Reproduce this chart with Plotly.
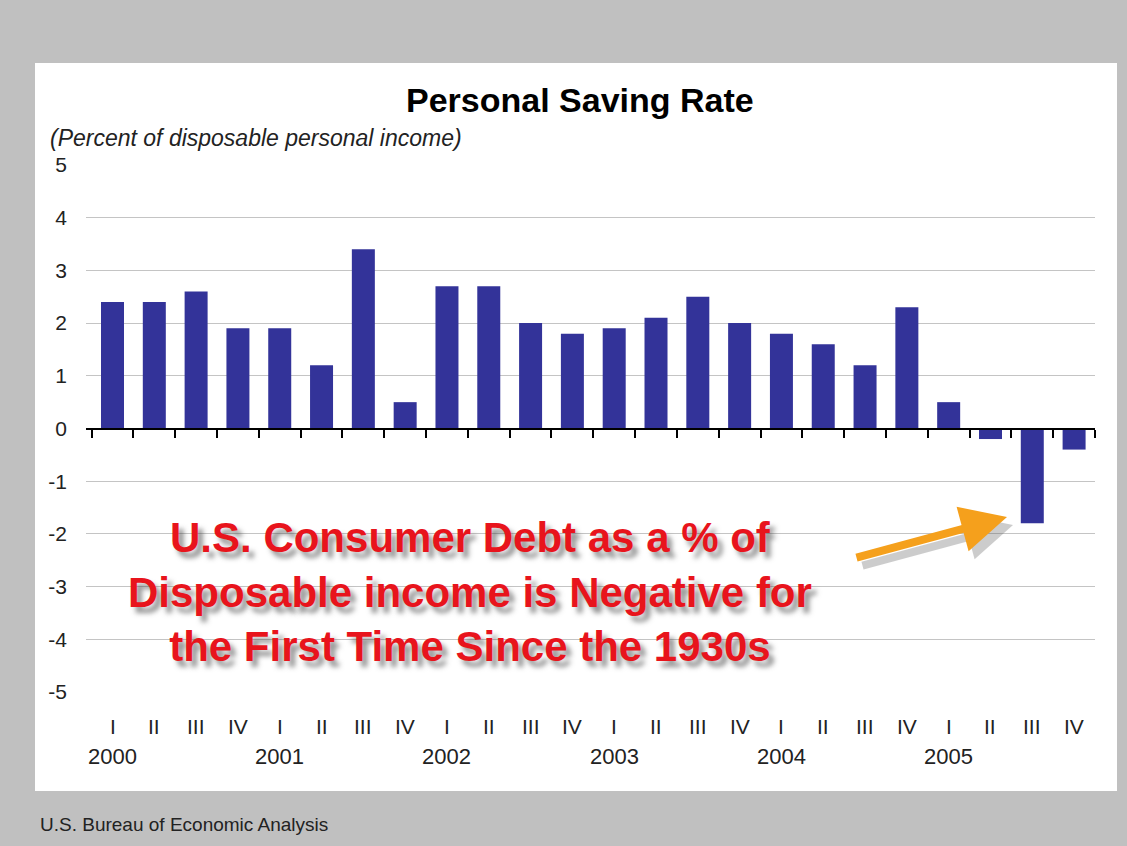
import plotly.graph_objects as go

quarters = ["I", "II", "III", "IV"]
years = ["2000", "2001", "2002", "2003", "2004", "2005"]
saving_rate = [2.4, 2.4, 2.6, 1.9, 1.9, 1.2, 3.4, 0.5,
               2.7, 2.7, 2.0, 1.8, 1.9, 2.1, 2.5, 2.0,
               1.8, 1.6, 1.2, 2.3, 0.5, -0.2, -1.8, -0.4]
y_ticks = [5, 4, 3, 2, 1, 0, -1, -2, -3, -4, -5]

W, H = 1127, 846
FONT = "Liberation Sans, Arial, sans-serif"

cats = [f"{y} {q}" for y in years for q in quarters]

def px(x):
    return x / W

def py(y):
    return 1 - y / H

fig = go.Figure()
fig.add_trace(go.Bar(
    x=cats, y=saving_rate,
    marker=dict(color="#333399", line=dict(width=0)),
    width=0.55,
    hoverinfo="x+y",
))

annotations = []
# quarter labels
for c in cats:
    q = c.split(" ")[1]
    annotations.append(dict(x=c, xref="x", y=py(726), yref="paper",
                            text=q, showarrow=False, yanchor="middle",
                            font=dict(family=FONT, size=21, color="#222222")))
# year labels under first quarter
for y in years:
    annotations.append(dict(x=f"{y} I", xref="x", y=py(756), yref="paper",
                            text=y, showarrow=False, yanchor="middle",
                            font=dict(family=FONT, size=22, color="#222222")))

# title and subtitle
annotations.append(dict(x=px(580), y=py(100), xref="paper", yref="paper",
                        text="<b>Personal Saving Rate</b>", showarrow=False,
                        xanchor="center", yanchor="middle",
                        font=dict(family=FONT, size=34, color="#000000")))
annotations.append(dict(x=px(48), y=py(138), xref="paper", yref="paper",
                        text="<i>(Percent of disposable personal income)</i>",
                        showarrow=False, xanchor="left", yanchor="middle",
                        font=dict(family=FONT, size=23, color="#222222")))
# source
annotations.append(dict(x=px(38), y=py(824), xref="paper", yref="paper",
                        text="U.S. Bureau of Economic Analysis",
                        showarrow=False, xanchor="left", yanchor="middle",
                        font=dict(family=FONT, size=19, color="#222222")))

# arrow shadow and arrow
tip_x, tip_y = 1007, 517
tail_x, tail_y = 855, 558
annotations.append(dict(x=px(tip_x + 6), y=py(tip_y + 8), xref="paper", yref="paper",
                        ax=tail_x - tip_x, ay=tail_y - tip_y, text="",
                        showarrow=True, arrowhead=2, arrowsize=1.15, arrowwidth=8,
                        arrowcolor="rgba(90,90,90,0.3)"))
annotations.append(dict(x=px(tip_x), y=py(tip_y), xref="paper", yref="paper",
                        ax=tail_x - tip_x, ay=tail_y - tip_y, text="",
                        showarrow=True, arrowhead=2, arrowsize=1.15, arrowwidth=8,
                        arrowcolor="#f5a01c"))

# red callout text
annotations.append(dict(x=px(470), y=py(592), xref="paper", yref="paper",
                        text="<b>U.S. Consumer Debt as a % of<br>Disposable income is Negative for<br>the First Time Since the 1930s</b>",
                        showarrow=False, xanchor="center", yanchor="middle", align="center",
                        font=dict(family=FONT, size=42, color="#e8141c",
                                  shadow="5px 6px 5px rgba(60,60,60,0.55)")))

fig.update_layout(
    width=W, height=H,
    margin=dict(l=0, r=0, t=0, b=0, pad=0),
    paper_bgcolor="#c0c0c0",
    plot_bgcolor="#ffffff",
    showlegend=False,
    bargap=0.45,
    annotations=annotations,
    shapes=[dict(type="rect", xref="paper", yref="paper",
                 x0=px(35), x1=px(1117), y0=py(791), y1=py(63),
                 fillcolor="#ffffff", line=dict(width=0), layer="below")],
    xaxis=dict(
        domain=[px(86), px(1095)],
        type="category",
        categoryorder="array", categoryarray=cats,
        anchor="free",
        position=(py(692) + py(165)) / 2,
        showline=True, linecolor="#000000", linewidth=2,
        ticks="outside", tickson="boundaries", ticklen=8, tickwidth=2,
        tickcolor="#000000",
        showticklabels=False, showgrid=False, zeroline=False,
        automargin=False,
    ),
    yaxis=dict(
        domain=[py(692), py(165)],
        range=[-5, 5],
        tickvals=y_ticks,
        ticktext=[str(v) for v in y_ticks],
        showgrid=True, gridcolor="#c4c4c4", gridwidth=1.2,
        zeroline=False, showline=False, ticks="",
        ticklabelstandoff=18,
        tickfont=dict(family=FONT, size=21, color="#222222"),
        automargin=False,
    ),
)

fig.write_html(
    "out.html",
    config={"displayModeBar": False},
    post_script="document.body.style.margin='0';document.body.style.overflow='hidden';",
)
